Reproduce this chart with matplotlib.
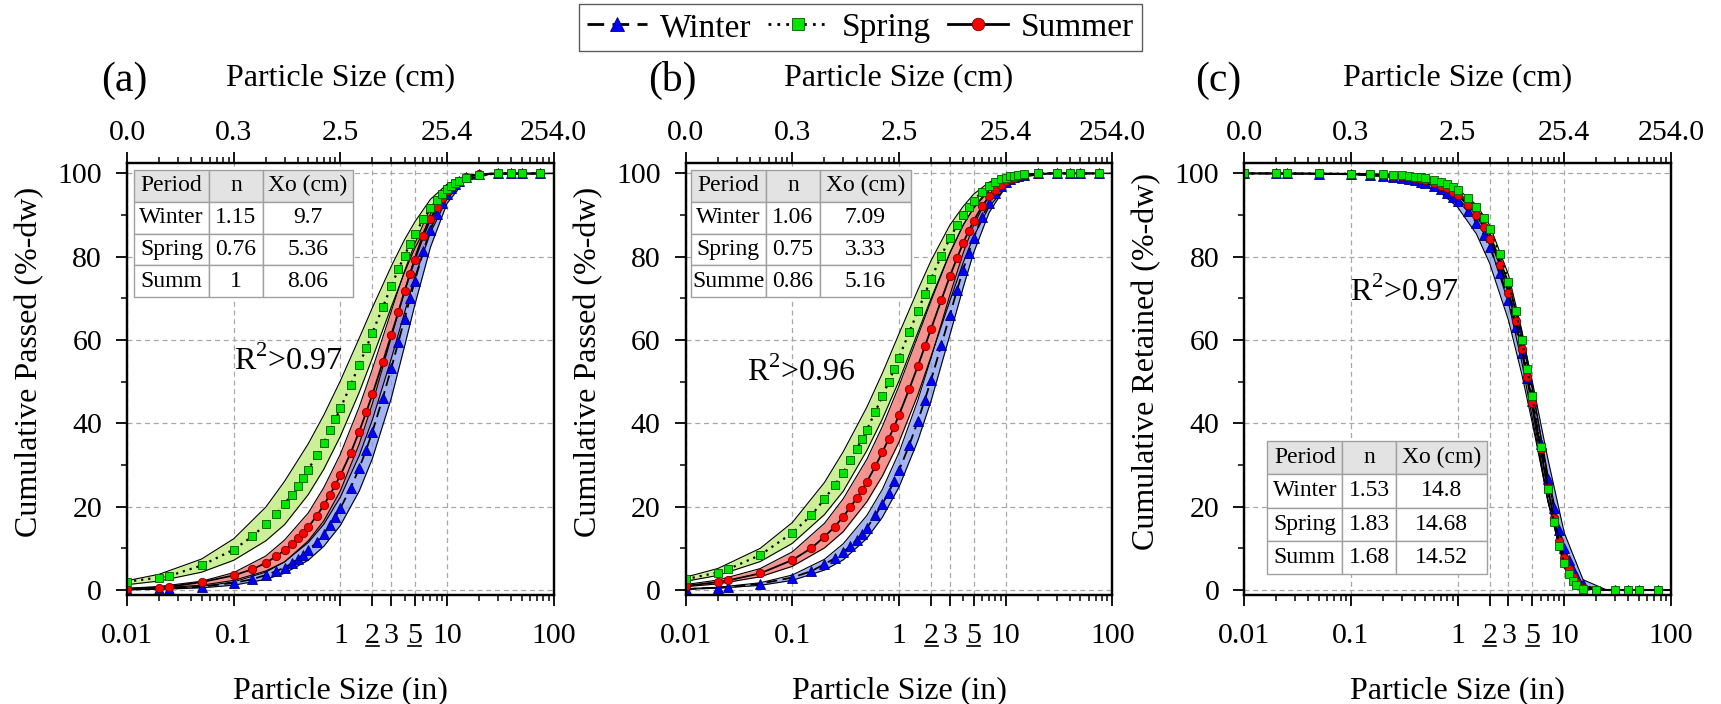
import matplotlib
matplotlib.use("Agg")
import matplotlib.pyplot as plt
import matplotlib.transforms as mtransforms
from matplotlib.ticker import FixedLocator, NullFormatter

plt.rcParams['font.family'] = ['Liberation Serif', 'DejaVu Serif']
plt.rcParams['mathtext.fontset'] = 'custom'
plt.rcParams['mathtext.rm'] = 'Liberation Serif'
plt.rcParams['hatch.linewidth'] = 0.5

# sieve sizes (inches) for the measured points
sizes_in = [0.01, 0.02, 0.025, 0.05, 0.1, 0.15, 0.2, 0.25, 0.3, 0.35,
            0.4, 0.45, 0.5, 0.6, 0.7, 0.8, 0.9, 1.0, 1.25, 1.5,
            1.75, 2.0, 2.5, 3.0, 3.5, 4.0, 4.5, 5.0, 6.0, 7.0,
            8.0, 9.0, 10, 11, 12, 13, 15, 20, 30, 40,
            50, 75]

# (a) cumulative passed
a_winter = [0.1, 0.3, 0.3, 0.8, 1.7, 2.6, 3.6, 4.5, 5.4, 6.4,
            7.5, 8.5, 9.5, 11.5, 13.5, 15.5, 17.6, 19.6, 24.5, 29.2,
            33.7, 38.0, 46.1, 53.2, 59.5, 65.1, 70.0, 74.3, 81.3, 86.5,
            90.3, 93.0, 95.0, 96.5, 97.5, 98.2, 99.1, 99.8, 100, 100,
            100, 100]
a_spring = [2.0, 3.0, 3.4, 5.9, 9.7, 12.9, 15.8, 18.2, 20.7, 22.9,
            25.0, 27.0, 28.9, 32.3, 35.4, 38.3, 41.0, 43.6, 49.2, 54.0,
            58.1, 61.8, 67.9, 72.9, 77.0, 80.3, 83.1, 85.4, 89.0, 91.7,
            93.6, 95.1, 96.2, 97.0, 97.6, 98.1, 98.8, 99.6, 100, 100,
            100, 100]
a_summer = [0.3, 0.6, 0.8, 1.9, 3.5, 5.0, 6.5, 8.1, 9.5, 11.0,
            12.4, 13.8, 15.1, 17.8, 20.4, 22.9, 25.3, 27.5, 32.9, 38.0,
            42.7, 47.0, 54.7, 61.2, 66.8, 71.7, 75.8, 79.3, 84.9, 89.0,
            92.0, 94.2, 95.7, 96.9, 97.7, 98.3, 99.1, 99.8, 100, 100,
            100, 100]

# (b) cumulative passed
b_winter = [0.2, 0.6, 0.7, 1.5, 3.0, 4.5, 6.2, 7.6, 9.1, 10.6,
            12.0, 13.5, 14.9, 17.9, 20.7, 23.4, 26.1, 28.7, 34.8, 40.5,
            45.7, 50.4, 58.9, 66.0, 72.0, 76.9, 81.0, 84.4, 89.5, 92.9,
            95.3, 96.9, 97.9, 98.6, 99.1, 99.4, 99.7, 100, 100, 100,
            100, 100]
b_spring = [2.6, 4.2, 5.0, 8.4, 13.7, 17.9, 21.8, 25.2, 28.2, 31.1,
            33.8, 36.2, 38.5, 42.8, 46.6, 49.9, 53.0, 55.8, 61.9, 66.9,
            71.1, 74.7, 80.3, 84.4, 87.6, 90.1, 92.0, 93.5, 95.6, 97.0,
            97.9, 98.6, 99.0, 99.3, 99.5, 99.6, 99.8, 100, 100, 100,
            100, 100]
b_summer = [1.0, 1.9, 2.3, 4.0, 7.2, 10.0, 12.8, 15.2, 17.6, 19.9,
            22.0, 24.0, 26.0, 29.7, 33.1, 36.3, 39.2, 42.0, 48.3, 53.7,
            58.5, 62.7, 69.7, 75.3, 79.7, 83.3, 86.2, 88.6, 92.1, 94.5,
            96.1, 97.3, 98.1, 98.6, 99.0, 99.3, 99.6, 99.9, 100, 100,
            100, 100]

# (c) cumulative retained
c_winter = [100.0, 100.0, 100.0, 99.9, 99.8, 99.6, 99.4, 99.2, 98.9, 98.7,
            98.4, 98.0, 97.7, 97.0, 96.2, 95.3, 94.4, 93.5, 91.0, 88.2,
            85.3, 82.3, 76.0, 69.6, 63.2, 57.0, 51.0, 45.3, 35.1, 26.6,
            19.7, 14.3, 10.2, 7.1, 4.9, 3.3, 1.4, 0.1, 0, 0,
            0, 0]
c_spring = [100.0, 100.0, 100.0, 100.0, 99.9, 99.9, 99.8, 99.7, 99.6, 99.4,
            99.2, 99.1, 98.9, 98.4, 97.9, 97.4, 96.7, 96.1, 94.1, 91.9,
            89.4, 86.6, 80.6, 74.0, 67.1, 60.1, 53.1, 46.5, 34.3, 24.2,
            16.3, 10.6, 6.5, 3.9, 2.2, 1.2, 0.3, 0, 0, 0,
            0, 0]
c_summer = [100.0, 100.0, 100.0, 100.0, 99.9, 99.8, 99.6, 99.5, 99.3, 99.1,
            98.9, 98.6, 98.4, 97.8, 97.1, 96.4, 95.6, 94.8, 92.5, 90.0,
            87.2, 84.3, 78.0, 71.3, 64.5, 57.8, 51.2, 45.0, 33.8, 24.5,
            17.2, 11.7, 7.7, 5.0, 3.1, 1.9, 0.6, 0, 0, 0,
            0, 0]

# confidence bands, read on a coarser grid
band_x = [0.01, 0.02, 0.05, 0.1, 0.2, 0.3, 0.5, 0.7, 1, 1.5,
          2, 3, 4, 5, 7, 10, 15, 25, 100]

a_winter_hi = [0.14, 0.31, 0.88, 1.95, 4.28, 6.73, 11.8, 16.6, 23.8, 35.0, 44.8, 60.6, 71.8, 80.0, 90.3, 96.9, 99.6, 100, 100]
a_winter_lo = [0.08, 0.18, 0.52, 1.16, 2.55, 4.04, 7.15, 10.5, 15.5, 23.7, 31.6, 46.0, 58.5, 68.5, 82.3, 92.8, 98.5, 100, 100]
a_spring_hi = [2.25, 3.78, 7.44, 12.3, 19.9, 26.1, 35.1, 42.0, 50.2, 60.4, 67.8, 77.7, 84.1, 88.4, 93.8, 97.4, 99.3, 99.9, 100]
a_spring_lo = [1.28, 2.16, 4.28, 7.14, 11.8, 15.7, 22.9, 29.0, 36.9, 47.4, 55.7, 67.9, 76.3, 82.1, 89.1, 94.6, 98.1, 99.8, 100]
a_summer_hi = [0.42, 0.85, 2.11, 4.17, 8.17, 12.0, 18.5, 24.6, 32.6, 43.9, 53.1, 66.9, 76.6, 83.2, 91.8, 97.2, 99.5, 100, 100]
a_summer_lo = [0.23, 0.47, 1.16, 2.31, 4.57, 6.77, 11.4, 15.8, 22.3, 32.2, 40.9, 55.5, 66.6, 75.2, 85.8, 93.9, 98.5, 99.9, 100]

b_winter_hi = [0.32, 0.66, 1.74, 3.60, 7.37, 11.1, 17.9, 24.2, 33.0, 45.5, 55.7, 70.8, 80.9, 87.5, 94.9, 98.7, 99.9, 100, 100]
b_winter_lo = [0.20, 0.43, 1.12, 2.32, 4.78, 7.24, 12.4, 17.5, 24.7, 35.8, 45.4, 61.2, 72.6, 80.9, 90.6, 96.8, 99.5, 100, 100]
b_spring_hi = [3.10, 5.16, 10.0, 16.2, 25.8, 33.2, 43.9, 52.1, 61.5, 72.0, 79.1, 87.6, 92.1, 95.0, 97.9, 99.4, 99.9, 100, 100]
b_spring_lo = [2.09, 3.50, 6.83, 11.2, 18.1, 23.7, 33.5, 41.1, 50.2, 61.8, 70.0, 81.0, 87.7, 91.6, 95.9, 98.5, 99.7, 100, 100]
b_summer_hi = [1.32, 2.38, 5.15, 9.16, 16.0, 21.9, 31.4, 39.3, 49.0, 60.9, 69.4, 80.8, 87.5, 91.8, 96.4, 98.9, 99.8, 100, 100]
b_summer_lo = [0.81, 1.46, 3.18, 5.69, 10.1, 14.0, 21.2, 27.4, 35.5, 46.8, 56.1, 69.4, 78.6, 84.8, 92.0, 96.7, 99.2, 100, 100]

c_winter_hi = [100, 100, 99.94, 99.84, 99.54, 99.15, 98.15, 96.92, 94.75, 90.46, 85.57, 73.95, 61.84, 50.26, 31.63, 13.72, 2.48, 0.02, 0]
c_winter_lo = [100, 99.98, 99.91, 99.75, 99.28, 98.67, 97.12, 95.24, 91.92, 85.49, 78.40, 64.76, 51.79, 40.26, 21.82, 7.23, 0.75, 0, 0]
c_spring_hi = [100, 100, 99.98, 99.94, 99.80, 99.59, 98.95, 98.07, 96.33, 92.46, 87.56, 75.67, 62.37, 49.16, 26.86, 8.01, 0.50, 0, 0]
c_spring_lo = [100, 100, 99.98, 99.94, 99.77, 99.52, 98.78, 97.76, 95.74, 91.26, 85.65, 72.24, 57.65, 43.68, 21.58, 5.26, 0.21, 0, 0]
c_summer_hi = [100, 99.99, 99.97, 99.90, 99.68, 99.36, 98.50, 97.37, 95.26, 90.85, 85.59, 73.52, 60.72, 48.40, 27.88, 9.77, 1.01, 0, 0]
c_summer_lo = [100, 99.99, 99.96, 99.88, 99.61, 99.23, 98.18, 96.82, 94.29, 89.03, 82.84, 68.93, 54.68, 41.56, 21.32, 6.00, 0.38, 0, 0]

# fitted parameters shown in the tables
table_cols = ['Period', 'n', 'Xo (cm)']
table_a = [['Winter', '1.15', '9.7'], ['Spring', '0.76', '5.36'], ['Summ', '1', '8.06']]
table_b = [['Winter', '1.06', '7.09'], ['Spring', '0.75', '3.33'], ['Summe', '0.86', '5.16']]
table_c = [['Winter', '1.53', '14.8'], ['Spring', '1.83', '14.68'], ['Summ', '1.68', '14.52']]

r2_texts = ['R$^2$>0.97', 'R$^2$>0.96', 'R$^2$>0.97']
panel_tags = ['(a)', '(b)', '(c)']
ylabels = ['Cumulative Passed (%-dw)', 'Cumulative Passed (%-dw)', 'Cumulative Retained (%-dw)']

bottom_ticks = [0.01, 0.1, 1, 2, 3, 5, 10, 100]
bottom_labels = ['0.01', '0.1', '1', '2', '3', '5', '10', '100']
top_ticks = [0.01, 0.1, 1, 10, 100]
top_labels = ['0.0', '0.3', '2.5', '25.4', '254.0']

C_WIN, C_SPR, C_SUM = '#0000ff', '#00e600', '#ff0000'
F_WIN, F_SPR, F_SUM = '#7b95ee', '#c6ef8a', '#f4807c'

fig = plt.figure(figsize=(17.21, 7.04), dpi=100)
lefts = [0.0738, 0.3984, 0.7230]
axes = [fig.add_axes([l, 0.1548, 0.2479, 0.6136]) for l in lefts]

panel_data = [
    (a_winter, a_spring, a_summer,
     (a_winter_lo, a_winter_hi), (a_spring_lo, a_spring_hi), (a_summer_lo, a_summer_hi),
     table_a, [0.0164, 0.6898, 0.514, 0.294], (0.1, 55.0)),
    (b_winter, b_spring, b_summer,
     (b_winter_lo, b_winter_hi), (b_spring_lo, b_spring_hi), (b_summer_lo, b_summer_hi),
     table_b, [0.0117, 0.6898, 0.5157, 0.294], (0.0376, 52.3)),
    (c_winter, c_spring, c_summer,
     (c_winter_lo, c_winter_hi), (c_spring_lo, c_spring_hi), (c_summer_lo, c_summer_hi),
     table_c, [0.0538, 0.0486, 0.514, 0.308], (0.099, 71.5)),
]
tag_x = [-0.007, -0.032, -0.06]

minor_bottom = [v * d for d in (0.01, 0.1, 1, 10) for v in range(2, 10)]
minor_bottom = [m for m in minor_bottom if m not in (2, 3, 5)]
minor_top = [v * d for d in (0.01, 0.1, 1, 10) for v in range(2, 10)]

handles = None
for i, ax in enumerate(axes):
    win, spr, summ, bw, bs, bu, trows, tbox, r2pos = panel_data[i]

    # bands
    ax.fill_between(band_x, bs[0], bs[1], color=F_SPR, alpha=0.9, lw=0, zorder=1.0)
    ax.fill_between(band_x, bu[0], bu[1], color=F_SUM, alpha=0.85, lw=0, zorder=1.1)
    ax.fill_between(band_x, bu[0], bu[1], facecolor='none', edgecolor='#d49a95',
                    hatch='\\', lw=0, zorder=1.15)
    ax.fill_between(band_x, bw[0], bw[1], color=F_WIN, alpha=0.7, lw=0, zorder=1.2)
    for lo, hi in (bs, bu, bw):
        ax.plot(band_x, lo, color='k', lw=0.8, zorder=1.5)
        ax.plot(band_x, hi, color='k', lw=0.8, zorder=1.5)

    l_win, = ax.plot(sizes_in, win, ls=(0, (6, 3)), color='k', lw=1.3,
                     marker='^', ms=6.5, mfc=C_WIN, mec='#00007a', mew=0.6, zorder=3)
    l_sum, = ax.plot(sizes_in, summ, ls='-', color='k', lw=1.3,
                     marker='o', ms=6, mfc=C_SUM, mec='#7a0000', mew=0.6, zorder=4)
    l_spr, = ax.plot(sizes_in, spr, ls=(0, (1, 2.2)), color='k', lw=1.6,
                     marker='s', ms=5.5, mfc=C_SPR, mec='#005a00', mew=0.6, zorder=5)
    if handles is None:
        handles = [l_win, l_spr, l_sum]

    ax.set_xscale('log')
    ax.set_xlim(0.01, 100)
    ax.set_ylim(-1.2, 102.5)
    ax.set_xticks(bottom_ticks)
    ax.set_xticklabels(bottom_labels)
    ax.xaxis.set_minor_locator(FixedLocator(minor_bottom))
    ax.xaxis.set_minor_formatter(NullFormatter())
    ax.set_yticks([0, 20, 40, 60, 80, 100])
    ax.yaxis.set_minor_locator(FixedLocator([10, 30, 50, 70, 90]))
    ax.grid(True, which='major', ls=(0, (4, 3)), color='#a8a8a8', lw=0.9)
    ax.set_axisbelow(True)
    ax.tick_params(which='major', direction='out', length=8, width=1.3,
                   labelsize=21.5, top=False, right=False)
    ax.tick_params(which='minor', direction='out', length=4, width=1.1,
                   top=False, right=False)
    ax.tick_params(axis='x', which='major', pad=12)
    ax.tick_params(axis='y', which='major', pad=10)
    for s in ax.spines.values():
        s.set_linewidth(1.6)

    # underlined 2 and 5
    trans = mtransforms.blended_transform_factory(ax.transData, ax.transAxes)
    for v in (2, 5):
        ax.plot([v / 1.15, v * 1.15], [-0.119, -0.119], transform=trans,
                color='k', lw=1.2, clip_on=False)

    ax.set_xlabel('Particle Size (in)', fontsize=23)
    ax.xaxis.label.set_va('center')
    ax.xaxis.set_label_coords(0.5, -0.222)
    ax.set_ylabel(ylabels[i], fontsize=23)
    ax.yaxis.label.set_va('center')
    ax.yaxis.set_label_coords(-0.228, 0.54)

    ax.text(r2pos[0], r2pos[1], r2_texts[i], fontsize=23, ha='left', va='center', zorder=6)

    # top axis in cm
    ax2 = ax.twiny()
    ax2.set_xscale('log')
    ax2.set_xlim(0.01, 100)
    ax2.set_xticks(top_ticks)
    ax2.set_xticklabels(top_labels)
    ax2.xaxis.set_minor_locator(FixedLocator(minor_top))
    ax2.xaxis.set_minor_formatter(NullFormatter())
    ax2.tick_params(which='major', direction='out', length=8, width=1.3, labelsize=21.5, pad=4)
    ax2.tick_params(which='minor', direction='out', length=4, width=1.1)
    for s in ax2.spines.values():
        s.set_linewidth(1.6)
    ax2.set_xlabel('Particle Size (cm)', fontsize=23)
    ax2.xaxis.label.set_va('center')
    ax2.xaxis.set_label_coords(0.5, 1.197)
    ax.text(tag_x[i], 1.19, panel_tags[i], transform=ax.transAxes, fontsize=30,
            ha='center', va='center')

    widths = [0.342, 0.245, 0.413]
    tb = ax.table(cellText=trows, colLabels=table_cols, cellLoc='center',
                  colWidths=widths, bbox=tbox, zorder=7)
    tb.auto_set_font_size(False)
    tb.set_fontsize(17)
    for (r, c), cell in tb.get_celld().items():
        cell.set_edgecolor('#a0a0a0')
        cell.set_linewidth(1.0)
        cell.set_facecolor('#e3e3e3' if r == 0 else 'white')

leg = fig.legend(handles, ['Winter', 'Spring', 'Summer'], loc='upper center',
                 bbox_to_anchor=(0.5, 0.994), ncol=3, fontsize=24, frameon=True,
                 fancybox=False, edgecolor='#333333', borderpad=0.25,
                 borderaxespad=0, handlelength=1.8, handletextpad=0.4,
                 columnspacing=0.5, markerscale=1.5)
leg.get_frame().set_linewidth(1.0)
for h in leg.get_lines():
    h.set_linewidth(2.0)

fig.savefig('out.png', dpi=100)
